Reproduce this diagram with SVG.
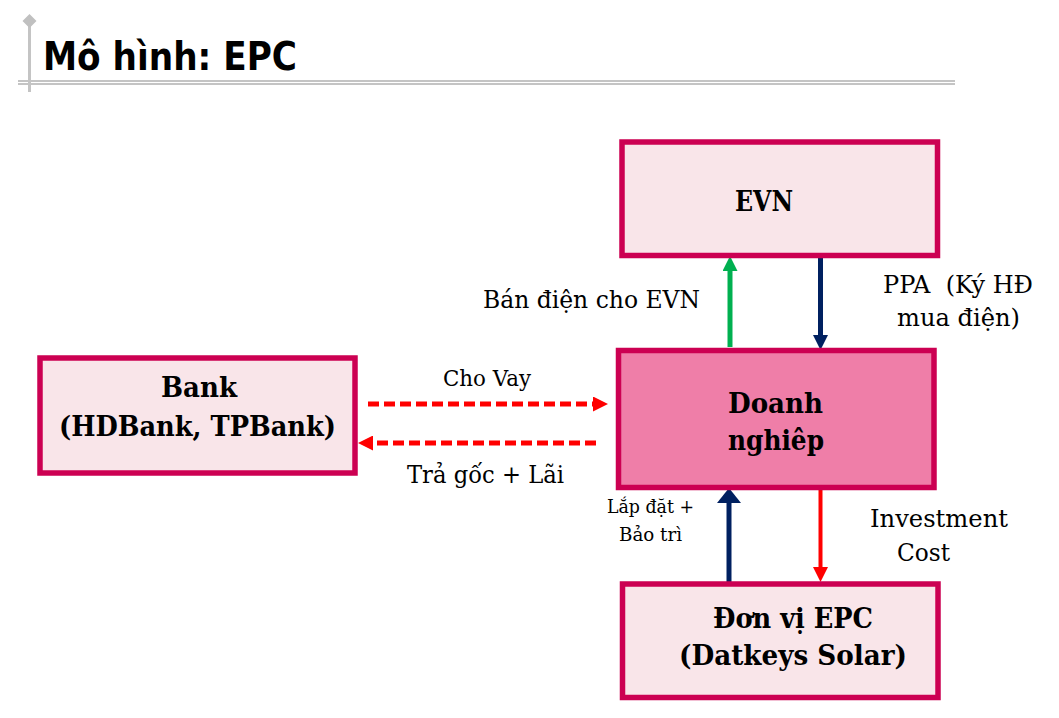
<svg xmlns="http://www.w3.org/2000/svg" width="1059" height="718" viewBox="0 0 1059 718">
<style>
.box{stroke:#CC0052;stroke-width:5.5;fill:#F9E5E9}
.main{fill:#EF7EA8}
.bt{font-family:"DejaVu Serif","Liberation Serif",serif;font-weight:bold;font-size:28.5px;fill:#000}
.lt{font-family:"DejaVu Serif","Liberation Serif",serif;font-size:24px;fill:#000}
.deco{stroke:#C4C4C4;fill:none}
</style>
<defs>
<marker id="hG" markerUnits="userSpaceOnUse" markerWidth="15" markerHeight="15" refX="2" refY="7.5" orient="auto"><path d="M0,0 L15,7.5 L0,15 Z" fill="#00B050"/></marker>
<marker id="hN" markerUnits="userSpaceOnUse" markerWidth="15" markerHeight="15" refX="2" refY="7.5" orient="auto"><path d="M0,0 L15,7.5 L0,15 Z" fill="#002060"/></marker>
<marker id="hNb" markerUnits="userSpaceOnUse" markerWidth="15" markerHeight="24" refX="2" refY="12" orient="auto"><path d="M0,0 L15,12 L0,24 Z" fill="#002060"/></marker>
<marker id="hR" markerUnits="userSpaceOnUse" markerWidth="15" markerHeight="15" refX="2" refY="7.5" orient="auto"><path d="M0,0 L15,7.5 L0,15 Z" fill="#FF0000"/></marker>
</defs>
<rect width="1059" height="718" fill="#FFFFFF"/>
<g id="title">
<line class="deco" x1="18" y1="81" x2="955" y2="81" stroke-width="1.8"/>
<line class="deco" x1="18" y1="84" x2="955" y2="84" stroke-width="1.8"/>
<line class="deco" x1="29.5" y1="24" x2="29.5" y2="92" stroke-width="3"/>
<polygon points="29.5,14 36.5,21 29.5,28 22.5,21" fill="#C0C0C0"/>
<text x="43" y="70" font-family="'DejaVu Sans','Liberation Sans',sans-serif" font-weight="bold" font-size="38.5" textLength="254" lengthAdjust="spacingAndGlyphs">Mô hình: EPC</text>
</g>
<g id="connectors">
<path d="M730,347 V269" stroke="#00B050" stroke-width="5" fill="none" marker-end="url(#hG)"/>
<path d="M820.5,258 V337" stroke="#002060" stroke-width="5" fill="none" marker-end="url(#hN)"/>
<path d="M729,583 V501" stroke="#002060" stroke-width="5" fill="none" marker-end="url(#hNb)"/>
<path d="M820.5,490 V569" stroke="#FF0000" stroke-width="4" fill="none" marker-end="url(#hR)"/>
<path d="M368,404 H595" stroke="#FF0000" stroke-width="5" stroke-dasharray="11 5" fill="none" marker-end="url(#hR)"/>
<path d="M596,443 H371" stroke="#FF0000" stroke-width="5" stroke-dasharray="11 5" fill="none" marker-end="url(#hR)"/>
</g>
<g id="evn">
<rect class="box" x="622" y="142" width="315.5" height="113.5"/>
<text class="bt" x="735" y="211" textLength="58" lengthAdjust="spacingAndGlyphs">EVN</text>
</g>
<g id="doanhnghiep">
<rect class="box main" x="618.5" y="350.5" width="315.5" height="137"/>
<text class="bt" x="728" y="413" textLength="95" lengthAdjust="spacingAndGlyphs">Doanh</text>
<text class="bt" x="728" y="450" textLength="96" lengthAdjust="spacingAndGlyphs">nghiêp</text>
</g>
<g id="bank">
<rect class="box" x="40" y="358" width="315" height="115"/>
<text class="bt" x="161" y="397" textLength="76" lengthAdjust="spacingAndGlyphs">Bank</text>
<text class="bt" x="59" y="436" textLength="277" lengthAdjust="spacingAndGlyphs">(HDBank, TPBank)</text>
</g>
<g id="epc">
<rect class="box" x="622.5" y="584" width="315.5" height="113.5"/>
<text class="bt" x="713" y="628" textLength="160" lengthAdjust="spacingAndGlyphs">Đơn vị EPC</text>
<text class="bt" x="679" y="665" textLength="228" lengthAdjust="spacingAndGlyphs">(Datkeys Solar)</text>
</g>
<g id="labels">
<text class="lt" x="483" y="308" textLength="217" lengthAdjust="spacingAndGlyphs">Bán điện cho EVN</text>
<text class="lt" x="883" y="293" textLength="150" lengthAdjust="spacingAndGlyphs" xml:space="preserve">PPA  (Ký HĐ</text>
<text class="lt" x="897" y="326" textLength="123" lengthAdjust="spacingAndGlyphs">mua điện)</text>
<text class="lt" x="443" y="386" style="font-size:21.5px" textLength="88" lengthAdjust="spacingAndGlyphs">Cho Vay</text>
<text class="lt" x="407" y="483" style="font-size:23.5px" textLength="157" lengthAdjust="spacingAndGlyphs">Trả gốc + Lãi</text>
<text class="lt" x="607" y="513" style="font-size:18.5px" textLength="87" lengthAdjust="spacingAndGlyphs">Lắp đặt +</text>
<text class="lt" x="619" y="541" style="font-size:18.5px" textLength="63" lengthAdjust="spacingAndGlyphs">Bảo trì</text>
<text class="lt" x="870" y="527" textLength="138" lengthAdjust="spacingAndGlyphs">Investment</text>
<text class="lt" x="897" y="561" textLength="53" lengthAdjust="spacingAndGlyphs">Cost</text>
</g>
</svg>
